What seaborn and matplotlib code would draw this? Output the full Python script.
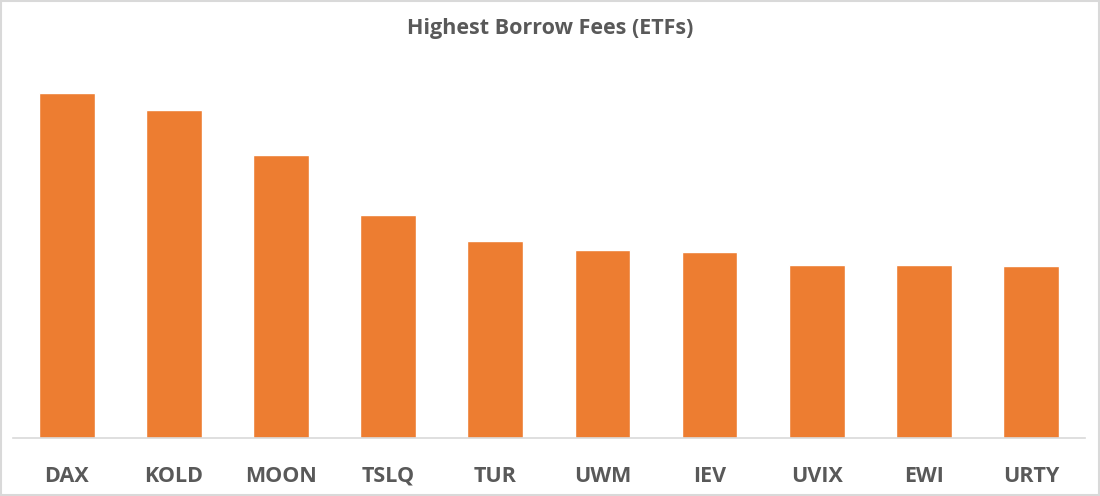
import matplotlib
matplotlib.use("Agg")
import matplotlib.pyplot as plt
import pandas as pd
import seaborn as sns

# Datos (altura relativa de las barras)
tickers = ["DAX", "KOLD", "MOON", "TSLQ", "TUR", "UWM", "IEV", "UVIX", "EWI", "URTY"]
fees = [34.5, 32.8, 28.3, 22.3, 19.7, 18.8, 18.6, 17.3, 17.3, 17.2]

df = pd.DataFrame({"ticker": tickers, "fee": fees})

sns.set_style("white")
plt.rcParams["font.family"] = ["Open Sans", "DejaVu Sans"]

fig = plt.figure(figsize=(11, 4.96), dpi=100)
ax = fig.add_axes([0.012, 0.117, 0.974, 0.762])

sns.barplot(data=df, x="ticker", y="fee", color="#ED7D31", width=0.52,
            saturation=1, ax=ax)

ax.set_ylim(0, 37.8)
ax.set_yticks([])
ax.set_xlabel("")
ax.set_ylabel("")
for s in ["top", "right", "left"]:
    ax.spines[s].set_visible(False)
ax.spines["bottom"].set_color("#D9D9D9")
ax.spines["bottom"].set_linewidth(1.2)
ax.tick_params(axis="x", length=0, pad=20, labelsize=15.5, labelcolor="#595959")
for lbl in ax.get_xticklabels():
    lbl.set_fontweight("bold")

fig.text(0.5, 0.942, "Highest Borrow Fees (ETFs)", ha="center", va="center",
         fontsize=15.5, fontweight="bold", color="#595959")

# Borde gris claro alrededor de la figura
fig.patches.append(plt.Rectangle((0.001, 0.002), 0.998, 0.996, transform=fig.transFigure,
                                 fill=False, edgecolor="#D9D9D9", linewidth=1.5))

fig.savefig("out.png", dpi=100)
